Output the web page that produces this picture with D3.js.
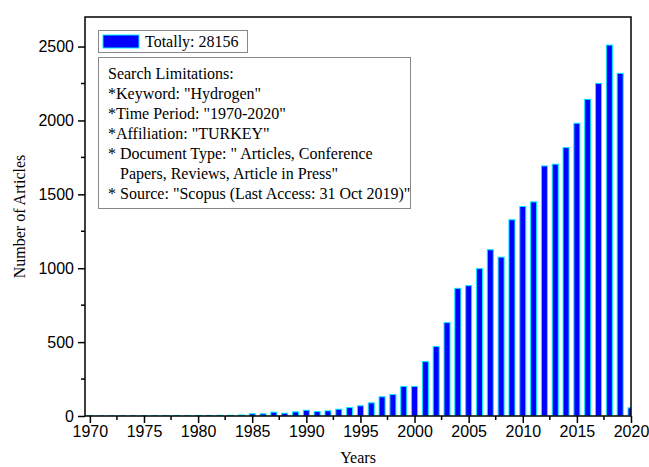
<!DOCTYPE html>
<html>
<head>
<meta charset="utf-8">
<script src="https://cdn.jsdelivr.net/npm/d3@7"></script>
<style>
body { margin: 0; background: #fff; }
</style>
</head>
<body>
<script>
// articles per year
const years = d3.range(1970, 2021);
const articles = [
  2, 1, 1, 2, 2, 3, 3, 3, 4, 3,
  4, 4, 5, 5, 7, 15, 15, 26, 19, 28,
  39, 30, 35, 46, 57, 69, 89, 130, 145, 200,
  200, 368, 470, 632, 864, 882, 997, 1125, 1075, 1328,
  1418, 1449, 1692, 1704, 1816, 1981, 2143, 2251, 2510, 2319,
  55
];
const xTicks = d3.range(1970, 2021, 5);
const yTicks = [0, 500, 1000, 1500, 2000, 2500];
const legendText = "Totally: 28156";
const noteLines = [
  "Search Limitations:",
  "*Keyword: \"Hydrogen\"",
  "*Time Period: \"1970-2020\"",
  "*Affiliation: \"TURKEY\"",
  "* Document Type: \" Articles, Conference",
  "   Papers, Reviews, Article in Press\"",
  "* Source: \"Scopus (Last Access: 31 Oct 2019)\""
];

const w = 649, h = 467;
const pL = 85, pR = 631, pT = 17, pB = 416;

const svg = d3.select("body").append("svg")
  .attr("width", w)
  .attr("height", h);

const x = d3.scaleLinear().domain([1969.55, 2020]).range([pL, pR]);
const y = d3.scaleLinear().domain([0, 2700]).range([pB, pT]);

svg.append("clipPath").attr("id", "clip")
  .append("rect")
  .attr("x", pL).attr("y", pT)
  .attr("width", pR - pL).attr("height", pB - pT);

const barW = 6;
svg.append("g")
  .attr("clip-path", "url(#clip)")
  .selectAll("rect")
  .data(years)
  .enter()
  .append("rect")
  .attr("x", (d) => x(d) - barW / 2)
  .attr("y", (d, i) => y(articles[i]))
  .attr("width", barW)
  .attr("height", (d, i) => pB - y(articles[i]))
  .attr("fill", "#0000ff")
  .attr("stroke", "#00f0ff")
  .attr("stroke-width", 1);

// frame
svg.append("rect")
  .attr("x", pL).attr("y", pT)
  .attr("width", pR - pL).attr("height", pB - pT)
  .attr("fill", "none")
  .attr("stroke", "#000")
  .attr("stroke-width", 1.5);

const xAxis = d3.axisBottom(x)
  .tickValues(xTicks)
  .tickFormat(d3.format("d"))
  .tickSize(7)
  .tickSizeOuter(0)
  .tickPadding(3);

const gx = svg.append("g")
  .attr("transform", "translate(0," + pB + ")")
  .style("font-family", "Liberation Sans, Arial, sans-serif")
  .style("font-size", "16px")
  .call(xAxis);
gx.select(".domain").remove();
gx.selectAll("line").attr("stroke-width", 1.5);
gx.selectAll("text").attr("fill", "#000");

// minor x ticks
svg.append("g")
  .selectAll("line")
  .data(d3.range(1972.5, 2020, 5))
  .enter()
  .append("line")
  .attr("x1", (d) => x(d)).attr("x2", (d) => x(d))
  .attr("y1", pB).attr("y2", pB + 4)
  .attr("stroke", "#000").attr("stroke-width", 1.5);

const yAxis = d3.axisLeft(y)
  .tickValues(yTicks)
  .tickFormat(d3.format("d"))
  .tickSize(7)
  .tickSizeOuter(0)
  .tickPadding(4);

const gy = svg.append("g")
  .attr("transform", "translate(" + pL + ",0)")
  .style("font-family", "Liberation Sans, Arial, sans-serif")
  .style("font-size", "16px")
  .call(yAxis);
gy.select(".domain").remove();
gy.selectAll("line").attr("stroke-width", 1.5);
gy.selectAll("text").attr("fill", "#000");

// minor y ticks
svg.append("g")
  .selectAll("line")
  .data(d3.range(250, 2700, 500))
  .enter()
  .append("line")
  .attr("x1", pL).attr("x2", pL - 4)
  .attr("y1", (d) => y(d)).attr("y2", (d) => y(d))
  .attr("stroke", "#000").attr("stroke-width", 1.5);

// axis titles
svg.append("text")
  .attr("x", (pL + pR) / 2)
  .attr("y", 463)
  .attr("text-anchor", "middle")
  .style("font-family", "Liberation Serif, Times New Roman, serif")
  .style("font-size", "16px")
  .text("Years");

svg.append("text")
  .attr("transform", "translate(25," + ((pT + pB) / 2) + ") rotate(-90)")
  .attr("text-anchor", "middle")
  .style("font-family", "Liberation Serif, Times New Roman, serif")
  .style("font-size", "16px")
  .text("Number of Articles");

// legend
const lg = svg.append("g").style("font-family", "Liberation Serif, Times New Roman, serif").style("font-size", "16px");
lg.append("rect")
  .attr("x", 98.5).attr("y", 30.5).attr("width", 149).attr("height", 22)
  .attr("fill", "#fff").attr("stroke", "#888").attr("stroke-width", 1);
lg.append("rect")
  .attr("x", 103).attr("y", 35).attr("width", 36).attr("height", 13)
  .attr("fill", "#0000ff").attr("stroke", "#00f0ff").attr("stroke-width", 1);
lg.append("text").attr("x", 145).attr("y", 47).text(legendText);

lg.append("rect")
  .attr("x", 98.5).attr("y", 57.5).attr("width", 312).attr("height", 151)
  .attr("fill", "#fff").attr("stroke", "#888").attr("stroke-width", 1);
lg.selectAll(".note")
  .data(noteLines)
  .enter()
  .append("text")
  .attr("class", "note")
  .attr("x", 108)
  .attr("y", (d, i) => 79 + i * 20)
  .style("white-space", "pre")
  .text((d) => d);
</script>
</body>
</html>
